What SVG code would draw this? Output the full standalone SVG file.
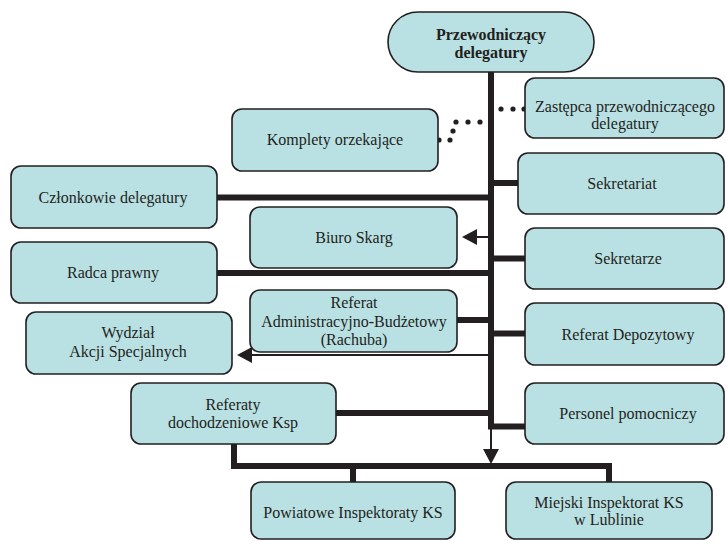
<svg xmlns="http://www.w3.org/2000/svg" width="726" height="541" viewBox="0 0 726 541">
<style>
.box{fill:#b9e0e3;stroke:#231f20;stroke-width:1.6}
.t{font-family:"Liberation Serif","Times New Roman",serif;font-size:16px;fill:#231f20;text-anchor:middle}
.b{font-weight:bold}
.thick{fill:none;stroke:#231f20;stroke-width:6}
.thin{fill:none;stroke:#231f20;stroke-width:2}
.dot{fill:#231f20}
</style>
<defs>
<marker id="ah" markerUnits="userSpaceOnUse" markerWidth="16" markerHeight="16" refX="0" refY="8" orient="auto">
<path d="M0,0 L15,8 L0,16 z" fill="#231f20"/>
</marker>
</defs>
<rect width="726" height="541" fill="#fff"/>
<g id="connectors">
<line class="thick" x1="491" y1="72" x2="491" y2="429"/>
<line class="thick" x1="217" y1="197.5" x2="491" y2="197.5"/>
<line class="thick" x1="217" y1="273" x2="491" y2="273"/>
<line class="thick" x1="457" y1="320" x2="491" y2="320"/>
<line class="thick" x1="336" y1="413" x2="491" y2="413"/>
<line class="thick" x1="491" y1="183" x2="518" y2="183"/>
<line class="thick" x1="491" y1="258.5" x2="525" y2="258.5"/>
<line class="thick" x1="491" y1="333.5" x2="525" y2="333.5"/>
<path class="thick" d="M488,426.5 H525"/>
<line class="thin" x1="489" y1="237" x2="477" y2="237" marker-end="url(#ah)"/>
<line class="thin" x1="489" y1="355" x2="252" y2="355" marker-end="url(#ah)"/>
<line class="thin" x1="491" y1="429" x2="491" y2="449" marker-end="url(#ah)"/>
<path class="thick" d="M234,444 V466 H609 V482"/>
<line class="thick" x1="353" y1="466" x2="353" y2="482"/>
<circle class="dot" cx="501" cy="109" r="2.6"/>
<circle class="dot" cx="513" cy="109" r="2.6"/>
<circle class="dot" cx="524" cy="109" r="2.6"/>
<circle class="dot" cx="480" cy="122" r="2.6"/>
<circle class="dot" cx="468" cy="122" r="2.6"/>
<circle class="dot" cx="456" cy="122" r="2.6"/>
<circle class="dot" cx="453" cy="131" r="2.6"/>
<circle class="dot" cx="450" cy="140" r="2.6"/>
<circle class="dot" cx="439" cy="140" r="2.6"/>
</g>
<g id="przewodniczacy">
<rect class="box" x="388" y="12" width="206" height="60" rx="30"/>
<text class="t b" x="491" y="40">Przewodniczący</text>
<text class="t b" x="491" y="58">delegatury</text>
</g>
<g id="zastepca">
<rect class="box" x="525" y="78" width="199" height="60" rx="10"/>
<text class="t" x="625" y="112">Zastępca przewodniczącego</text>
<text class="t" x="625" y="129">delegatury</text>
</g>
<g id="komplety">
<rect class="box" x="232" y="109" width="206" height="62" rx="10"/>
<text class="t" x="335" y="145">Komplety orzekające</text>
</g>
<g id="sekretariat">
<rect class="box" x="518" y="153" width="206" height="61" rx="10"/>
<text class="t" x="622" y="189">Sekretariat</text>
</g>
<g id="czlonkowie">
<rect class="box" x="11" y="166" width="206" height="62" rx="10"/>
<text class="t" x="113" y="203">Członkowie delegatury</text>
</g>
<g id="biuro">
<rect class="box" x="250" y="207" width="207" height="61" rx="10"/>
<text class="t" x="354" y="243">Biuro Skarg</text>
</g>
<g id="sekretarze">
<rect class="box" x="525" y="228" width="199" height="61" rx="10"/>
<text class="t" x="628" y="264">Sekretarze</text>
</g>
<g id="radca">
<rect class="box" x="11" y="242" width="206" height="61" rx="10"/>
<text class="t" x="113" y="278">Radca prawny</text>
</g>
<g id="referat-admin">
<rect class="box" x="250" y="290" width="207" height="62" rx="10"/>
<text class="t" x="354" y="308">Referat</text>
<text class="t" x="354" y="327">Administracyjno-Budżetowy</text>
<text class="t" x="354" y="345">(Rachuba)</text>
</g>
<g id="depozytowy">
<rect class="box" x="525" y="303" width="199" height="62" rx="10"/>
<text class="t" x="628" y="340">Referat Depozytowy</text>
</g>
<g id="wydzial">
<rect class="box" x="26" y="312" width="206" height="62" rx="10"/>
<text class="t" x="128" y="338">Wydział</text>
<text class="t" x="128" y="357">Akcji Specjalnych</text>
</g>
<g id="referaty-doch">
<rect class="box" x="131" y="383" width="205" height="61" rx="10"/>
<text class="t" x="233" y="410">Referaty</text>
<text class="t" x="233" y="428">dochodzeniowe Ksp</text>
</g>
<g id="personel">
<rect class="box" x="525" y="383" width="199" height="61" rx="10"/>
<text class="t" x="628" y="419">Personel pomocniczy</text>
</g>
<g id="powiatowe">
<rect class="box" x="251" y="482" width="204" height="57" rx="10"/>
<text class="t" x="353" y="518">Powiatowe Inspektoraty KS</text>
</g>
<g id="miejski">
<rect class="box" x="506" y="482" width="206" height="57" rx="10"/>
<text class="t" x="609" y="508">Miejski Inspektorat KS</text>
<text class="t" x="609" y="525">w Lublinie</text>
</g>
</svg>
